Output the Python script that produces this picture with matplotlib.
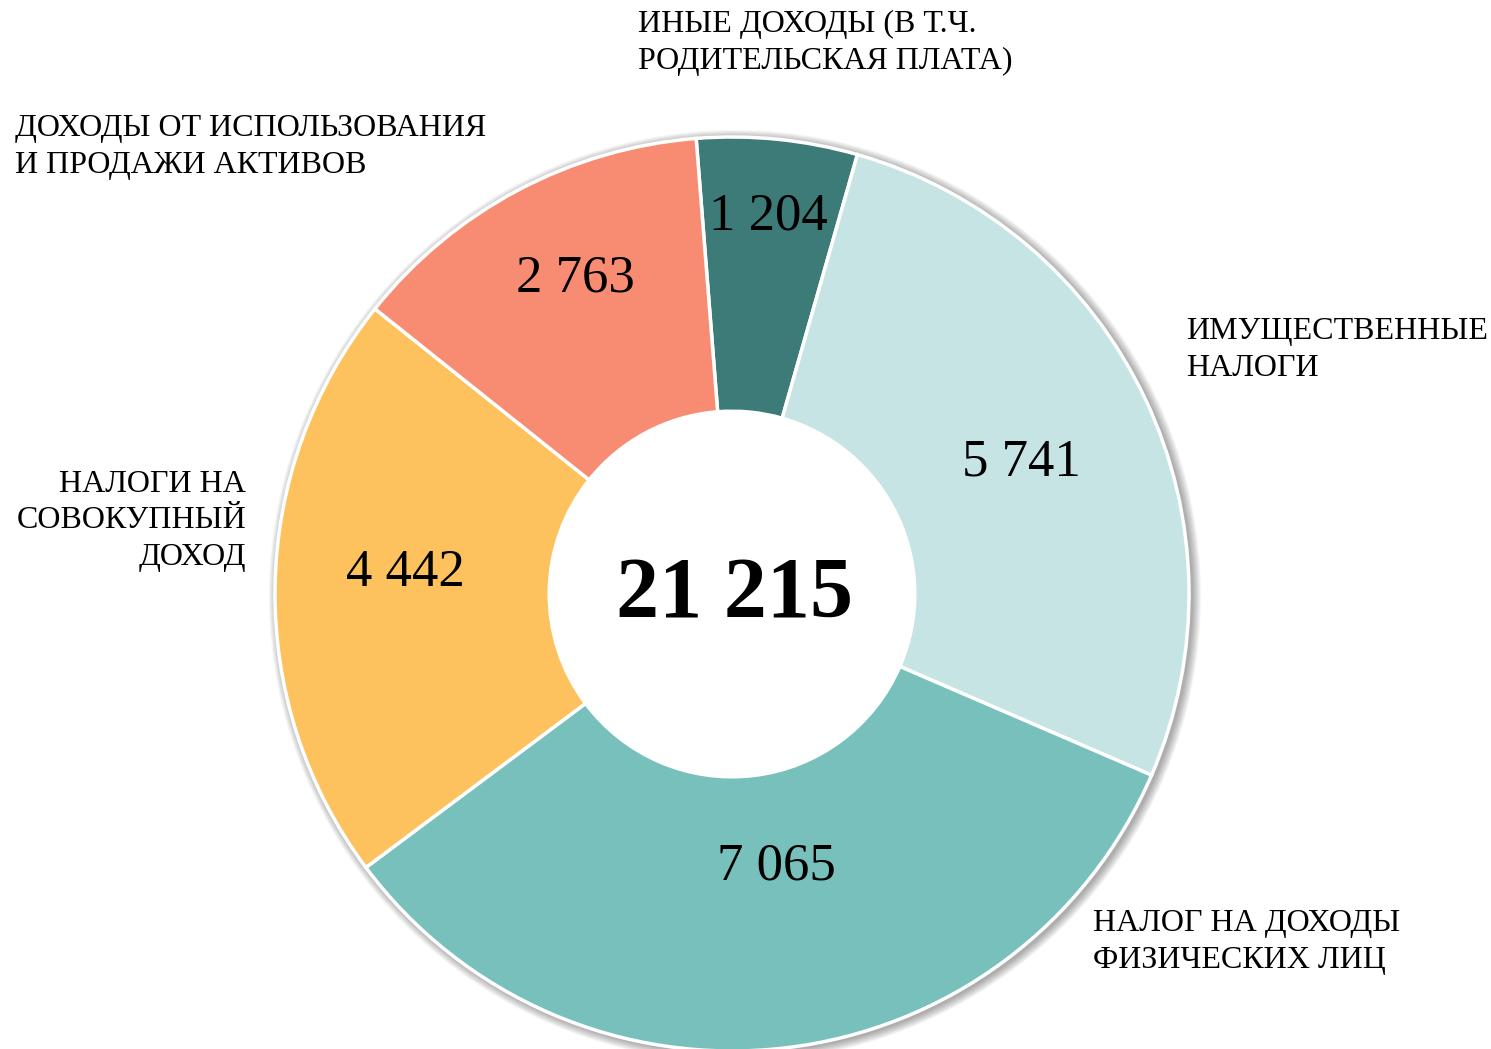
import matplotlib
matplotlib.use("Agg")
from matplotlib import pyplot as plt
from matplotlib.patches import Circle, Wedge

# data
values = [1204, 5741, 7065, 4442, 2763]
value_labels = ["1 204", "5 741", "7 065", "4 442", "2 763"]
colors = ["#3d7b79", "#c5e4e3", "#77c0bc", "#fdc25d", "#f88c72"]
categories = [
    "ИНЫЕ ДОХОДЫ (В Т.Ч.\nРОДИТЕЛЬСКАЯ ПЛАТА)",
    "ИМУЩЕСТВЕННЫЕ\nНАЛОГИ",
    "НАЛОГ НА ДОХОДЫ\nФИЗИЧЕСКИХ ЛИЦ",
    "НАЛОГИ НА\nСОВОКУПНЫЙ\nДОХОД",
    "ДОХОДЫ ОТ ИСПОЛЬЗОВАНИЯ\nИ ПРОДАЖИ АКТИВОВ",
]
total_label = "21 215"

plt.rcParams["font.family"] = ["Liberation Serif", "DejaVu Serif"]

W, H = 1491, 1049
fig = plt.figure(figsize=(W / 100, H / 100), dpi=100)
ax = fig.add_axes([0, 0, 1, 1])

cx, cy, R = 732, H - 594, 457
ring = 0.6

# soft shadow behind the ring (outer edge only)
for i in range(10):
    ax.add_patch(Wedge((cx + 3, cy - 2), R + 1 + i * 0.9, 0, 360,
                       width=R * ring, color="black", alpha=0.035, lw=0, zorder=0))

wedges, _ = ax.pie(values, colors=colors, startangle=94.5, counterclock=False,
                   center=(cx, cy), radius=R, frame=True,
                   wedgeprops=dict(width=R * ring, edgecolor="white", linewidth=2.5))
for w in wedges:
    w.set_zorder(2)
ax.add_patch(Circle((cx, cy), R * (1 - ring) - 1, color="white", lw=0, zorder=1))
ax.set_xlim(0, W)
ax.set_ylim(0, H)
ax.set_aspect("equal")
ax.axis("off")

# value labels
val_pos = [(768, 217), (1021, 462), (776, 867), (405, 573), (575, 278)]
for (x, y), t in zip(val_pos, value_labels):
    ax.text(x, H - y, t, fontsize=38, ha="center", va="center", zorder=3)

ax.text(735, H - 597, total_label, fontsize=62, fontweight="bold",
        ha="center", va="center", zorder=3)

# category labels
cat_pos = [(638, 43, "left"), (1186, 350, "left"), (1093, 942, "left"),
           (246, 521, "right"), (15, 147, "left")]
for (x, y, ha), t in zip(cat_pos, categories):
    ax.text(x, H - y, t, fontsize=23, ha=ha, va="center",
            multialignment=ha, linespacing=1.36, zorder=3)

plt.savefig("out.png", dpi=100)
